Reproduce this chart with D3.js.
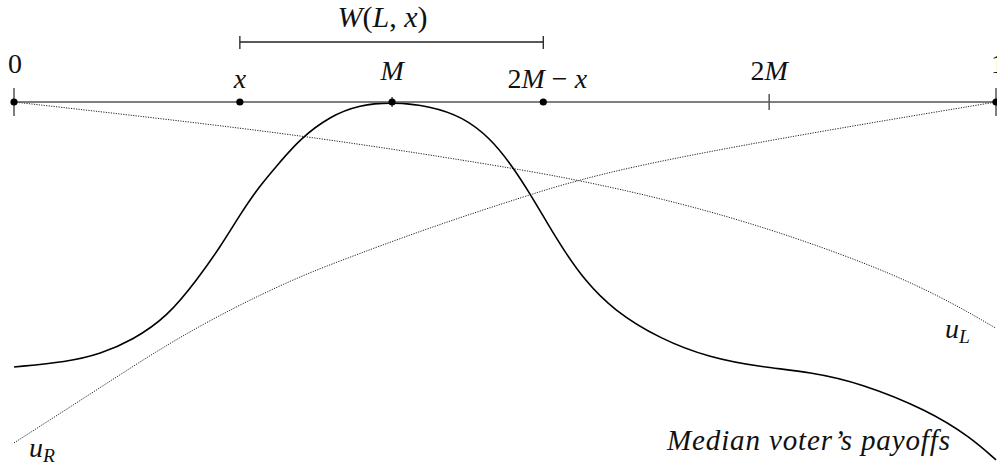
<!DOCTYPE html>
<html>
<head>
<meta charset="utf-8">
<script src="https://cdn.jsdelivr.net/npm/d3@7"></script>
<style>
  body { margin: 0; background: #fff; }
  svg { display: block; }
</style>
</head>
<body>
<svg width="997" height="466"></svg>
<script>
// positions along the policy line (0..1)
const axisNames = ["0", "x", "M", "2M-x", "2M", "1"];
const axisValues = [0, 0.23, 0.385, 0.539, 0.769, 1];
const dotted = [true, true, true, true, false, true];

// median voter's payoff
const medianT = [0, 0.054, 0.088, 0.121, 0.156, 0.187, 0.210, 0.230, 0.250, 0.271, 0.291, 0.322, 0.352, 0.385,
                 0.424, 0.457, 0.485, 0.508, 0.525, 0.543, 0.561, 0.581, 0.610, 0.658, 0.709, 0.760, 0.811,
                 0.862, 0.930, 0.974, 1.0];
const medianU = [-1.171, -1.149, -1.114, -1.052, -0.950, -0.782, -0.641, -0.499, -0.371, -0.265, -0.164, -0.062, -0.013, 0,
                 -0.018, -0.066, -0.159, -0.287, -0.402, -0.535, -0.663, -0.787, -0.919, -1.048, -1.131, -1.171, -1.193,
                 -1.242, -1.361, -1.481, -1.582];

// u_L
const leftT = [0, 0.154, 0.322, 0.508, 0.574, 0.658, 0.770, 0.915, 1.0];
const leftU = [0, -0.075, -0.164, -0.292, -0.345, -0.424, -0.557, -0.787, -1.0];

// u_R
const rightT = [0, 0.088, 0.156, 0.223, 0.284, 0.322, 0.424, 0.525, 0.574, 0.658, 0.828, 1.0];
const rightU = [-1.507, -1.262, -1.070, -0.910, -0.785, -0.718, -0.553, -0.410, -0.345, -0.258, -0.124, 0];

// W(L, x) spans from x to 2M - x
const bracketFrom = 0.23, bracketTo = 0.539;

const FONT = "'Liberation Serif', serif";

var svg = d3.select("svg");

var x = d3.scaleLinear().domain([0, 1]).range([14, 996]),
    y = d3.scaleLinear().domain([-1.6, 0]).range([464, 102]);

var line = d3.line()
             .x(d => x(d[0]))
             .y(d => y(d[1]))
             .curve(d3.curveBasis);

// payoff curves
svg.append("path")
   .datum(d3.zip(leftT, leftU))
   .attr("d", line)
   .attr("fill", "none")
   .attr("stroke", "#222")
   .attr("stroke-width", 1)
   .attr("stroke-dasharray", "1.2,1.3");

svg.append("path")
   .datum(d3.zip(rightT, rightU))
   .attr("d", line)
   .attr("fill", "none")
   .attr("stroke", "#222")
   .attr("stroke-width", 1)
   .attr("stroke-dasharray", "1.2,1.3");

svg.append("path")
   .datum(d3.zip(medianT, medianU))
   .attr("d", line)
   .attr("fill", "none")
   .attr("stroke", "#000")
   .attr("stroke-width", 1.6);

// policy line
var y0 = y(0);
svg.append("line")
   .attr("x1", x(0)).attr("x2", x(1))
   .attr("y1", y0).attr("y2", y0)
   .attr("stroke", "#555")
   .attr("stroke-width", 1.5);

// tick half-lengths, label lift above the line, label nudge
const tickHalf = [14, 0, 5, 0, 8, 14];
const labelLift = [29, 14, 22, 14, 22, 29];
const labelNudge = [1, 0, 0, 4, 0, 2];

svg.append("g")
   .selectAll("line")
   .data(axisValues.map((v, i) => [v, tickHalf[i]]).filter(d => d[1] > 0))
   .enter().append("line")
   .attr("x1", d => x(d[0])).attr("x2", d => x(d[0]))
   .attr("y1", d => y0 - d[1]).attr("y2", d => y0 + d[1])
   .attr("stroke", "#555")
   .attr("stroke-width", 1.5);

svg.append("g")
   .selectAll("circle")
   .data(axisValues.filter((v, i) => dotted[i]))
   .enter().append("circle")
   .attr("cx", d => x(d))
   .attr("cy", y0)
   .attr("r", 3.6)
   .attr("fill", "#000");

// label pieces: [text, italic, subscript shift]
function pieces(name) {
  if (name === "0" || name === "1") return [[name, false]];
  if (name === "x" || name === "M") return [[name, true]];
  if (name === "2M") return [["2", false], ["M", true]];
  if (name === "2M-x") return [["2", false], ["M", true], ["\u2005\u2212\u2005", false], ["x", true]];
}

function label(px, py, parts, size, anchor) {
  var t = svg.append("text")
             .attr("x", px).attr("y", py)
             .attr("text-anchor", anchor || "start")
             .attr("font-family", FONT)
             .attr("font-size", size)
             .attr("fill", "#111");
  parts.forEach(p => {
    var s = t.append("tspan").text(p[0])
             .attr("font-family", FONT)
             .attr("font-style", p[1] ? "italic" : "normal");
    if (p[2]) s.attr("font-size", size * 0.7).attr("dy", p[2]);
  });
  return t;
}

axisNames.forEach((n, i) => {
  label(x(axisValues[i]) + labelNudge[i], y0 - labelLift[i], pieces(n), 28, "middle");
});

// W(L, x) bracket
var by = 42;
svg.append("line")
   .attr("x1", x(bracketFrom)).attr("x2", x(bracketTo))
   .attr("y1", by).attr("y2", by)
   .attr("stroke", "#222").attr("stroke-width", 1.3);
[bracketFrom, bracketTo].forEach(v => {
  svg.append("line")
     .attr("x1", x(v)).attr("x2", x(v))
     .attr("y1", by - 6).attr("y2", by + 7)
     .attr("stroke", "#222").attr("stroke-width", 1.3);
});
label((x(bracketFrom) + x(bracketTo)) / 2 - 9, 27,
      [["W", true], ["(", false], ["L", true], [",\u2005", false], ["x", true], [")", false]], 30, "middle");

// curve names
label(945, 338, [["u", true], ["L", true, 5]], 28);
label(29, 457, [["u", true], ["R", true, 5]], 28);

label(667, 450, [["Median voter\u2019s payoffs", true]], 29)
  .attr("textLength", 283)
  .attr("lengthAdjust", "spacing");
</script>
</body>
</html>
